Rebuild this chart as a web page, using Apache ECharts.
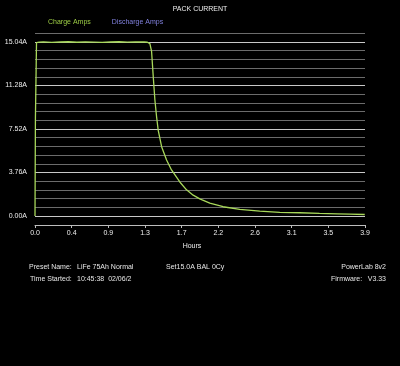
<!DOCTYPE html>
<html>
<head>
<meta charset="utf-8">
<script src="https://cdn.jsdelivr.net/npm/echarts@6/dist/echarts.min.js"></script>
<style>
html,body{margin:0;padding:0;background:#000;}
#chart{width:400px;height:366px;}
</style>
</head>
<body>
<div id="chart"></div>
<script>
// ---- data ----
var chartTitle = 'PACK CURRENT';
var seriesNames = ['Charge Amps', 'Discharge Amps'];
var hours = [0, 0.005, 0.018, 0.05, 0.1, 0.2, 0.3, 0.4, 0.5, 0.6, 0.7, 0.8, 0.9, 1.0, 1.1, 1.2, 1.3, 1.34, 1.369, 1.389, 1.408, 1.429, 1.449, 1.468, 1.509, 1.568, 1.627, 1.726, 1.806, 1.885, 1.964, 2.083, 2.242, 2.44, 2.679, 2.917, 3.155, 3.39, 3.6, 3.75, 3.93];
var chargeAmps = [0, 8.5, 14.98, 15.03, 15.05, 15.01, 15.04, 15.06, 15.02, 15.05, 15.03, 15.0, 15.04, 15.06, 15.03, 15.05, 15.04, 15.02, 14.9, 14.26, 12.19, 10.03, 8.58, 7.43, 5.99, 4.84, 3.98, 2.94, 2.26, 1.80, 1.48, 1.12, 0.80, 0.58, 0.43, 0.32, 0.28, 0.22, 0.19, 0.17, 0.13];
var dischargeAmps = [];
var xTickLabels = ['0.0', '0.4', '0.9', '1.3', '1.7', '2.2', '2.6', '3.1', '3.5', '3.9'];
var yTickLabels = ['0.00A', '3.76A', '7.52A', '11.28A', '15.04A'];
var xAxisName = 'Hours';
var footerLeft1 = ['Preset Name:', 'LiFe 75Ah Normal', 'Set15.0A BAL 0Cy'];
var footerLeft2 = ['Time Started:', '10:45:38  02/06/2'];
var footerRight = ['PowerLab 8v2', 'Firmware:', 'V3.33'];

// ---- chart ----
var FONT = 'Liberation Sans';
var chart = echarts.init(document.getElementById('chart'));
var chargeData = hours.map(function (h, i) { return [h, chargeAmps[i]]; });
var dischargeData = dischargeAmps.map(function (v, i) { return [hours[i], v]; });

function txt(x, y, t, align) {
  return {
    type: 'text', x: x, y: y,
    style: { text: t, fill: '#e6e6e6', font: '7px "' + FONT + '"', textAlign: align || 'left', textVerticalAlign: 'middle' }
  };
}

var option = {
  backgroundColor: '#000',
  animation: false,
  textStyle: { fontFamily: FONT },
  title: {
    text: chartTitle, left: 'center', top: 1,
    textStyle: { color: '#eeeeee', fontSize: 7, fontWeight: 'normal', fontFamily: FONT }
  },
  legend: {
    left: 38, top: 14, icon: 'rect', itemWidth: 0, itemHeight: 0, itemGap: 16,
    data: [
      { name: seriesNames[0], textStyle: { color: '#9ccc45' } },
      { name: seriesNames[1], textStyle: { color: '#8080dc' } }
    ],
    textStyle: { fontSize: 7, fontFamily: FONT }
  },
  grid: { left: 35, right: 35, top: 33.3, bottom: 150, containLabel: false },
  xAxis: {
    type: 'value', min: 0, max: 3.933, interval: 0.437,
    offset: 9,
    name: xAxisName, nameLocation: 'middle', nameGap: 18,
    nameTextStyle: { color: '#eeeeee', fontSize: 7, fontFamily: FONT, padding: [0, 16, 0, 0] },
    axisLine: { show: true, onZero: false, lineStyle: { color: '#bdbdbd', width: 1 } },
    axisTick: { show: true, length: 3, lineStyle: { color: '#bdbdbd' } },
    axisLabel: {
      color: '#eeeeee', fontSize: 7, fontFamily: FONT, margin: 5,
      formatter: function (v, i) { return xTickLabels[i] !== undefined ? xTickLabels[i] : ''; }
    },
    splitLine: { show: false }
  },
  yAxis: {
    type: 'value', min: 0, max: 15.792, interval: 0.752,
    axisLine: { show: false },
    axisTick: { show: false },
    axisLabel: {
      color: '#eeeeee', fontSize: 7, fontFamily: FONT, margin: 8,
      formatter: function (v, i) { return (i % 5 === 0 && yTickLabels[i / 5] !== undefined) ? yTickLabels[i / 5] : ''; }
    },
    splitLine: {
      show: true,
      lineStyle: { color: ['#c8c8c8', '#6c6c6c', '#6c6c6c', '#6c6c6c', '#6c6c6c'], width: 1 }
    }
  },
  series: [
    {
      name: seriesNames[0], type: 'line', data: chargeData, showSymbol: false, symbol: 'none',
      lineStyle: { color: '#a8d85a', width: 1.3 }, itemStyle: { color: '#a8d85a' }
    },
    {
      name: seriesNames[1], type: 'line', data: dischargeData, showSymbol: false, symbol: 'none',
      lineStyle: { color: '#8080dc', width: 1.3 }, itemStyle: { color: '#8080dc' }
    }
  ],
  graphic: [
    txt(29, 267, footerLeft1[0]),
    txt(77, 267, footerLeft1[1]),
    txt(166, 267, footerLeft1[2]),
    txt(30, 279, footerLeft2[0]),
    txt(77, 279, footerLeft2[1]),
    txt(386, 267, footerRight[0], 'right'),
    txt(331, 279, footerRight[1]),
    txt(386, 279, footerRight[2], 'right')
  ]
};
chart.setOption(option);
</script>
</body>
</html>
